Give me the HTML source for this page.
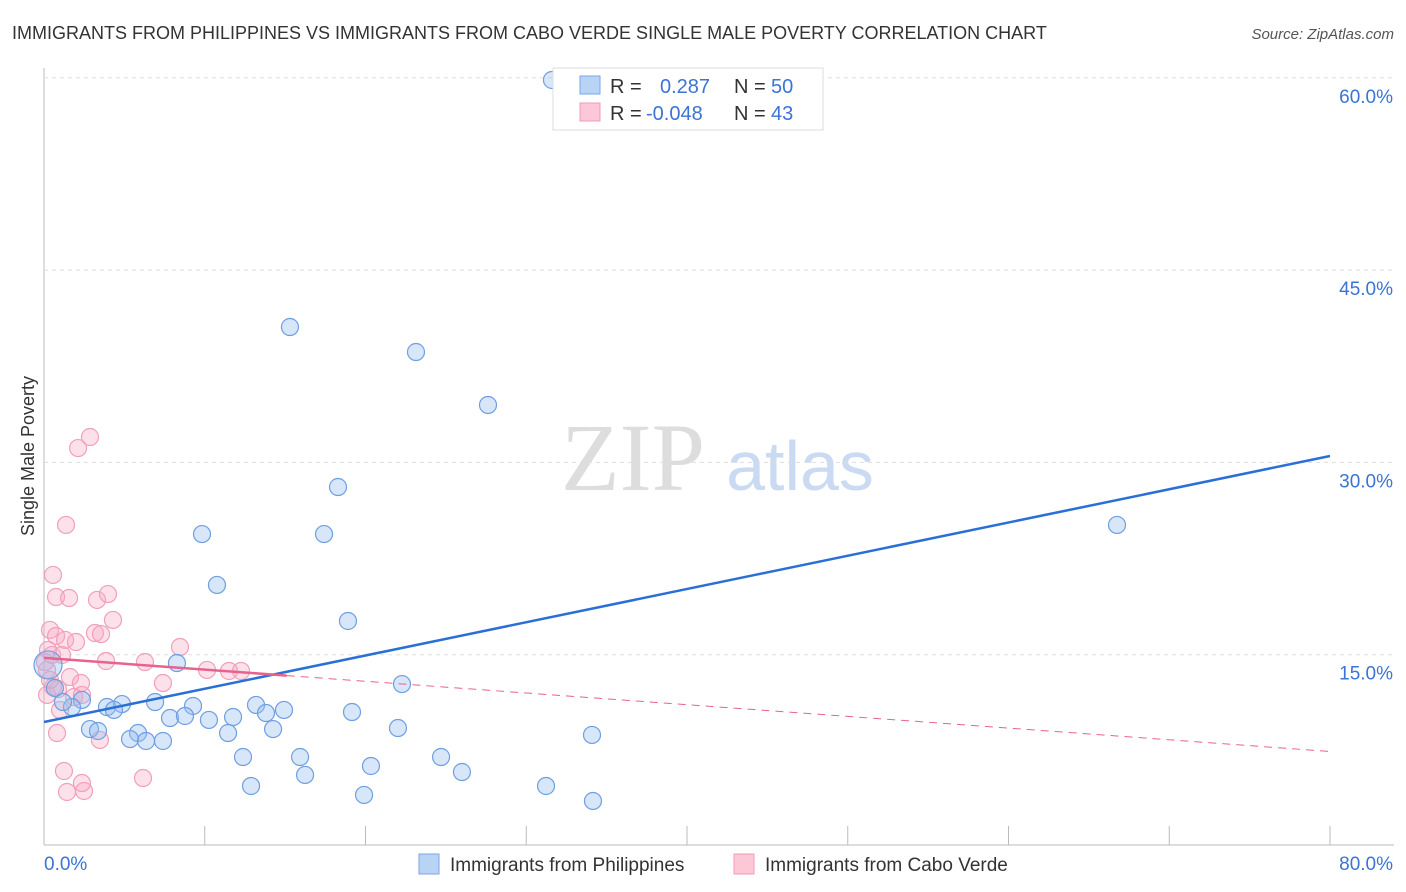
<!DOCTYPE html>
<html><head><meta charset="utf-8"><style>
body{margin:0;background:#fff;font-family:"Liberation Sans",sans-serif;}
svg{display:block}
</style></head><body>
<svg id="c" width="1406" height="892">
<text x="12" y="39" font-size="18" fill="#333">IMMIGRANTS FROM PHILIPPINES VS IMMIGRANTS FROM CABO VERDE SINGLE MALE POVERTY CORRELATION CHART</text>
<text x="1394" y="39" font-size="15" fill="#555" font-style="italic" text-anchor="end">Source: ZipAtlas.com</text>
<text transform="translate(34,456) rotate(-90)" font-size="18" fill="#333" text-anchor="middle">Single Male Poverty</text>
<g><text x="633" y="490" font-size="96" font-family="Liberation Serif,serif" fill="#ddd" text-anchor="middle">ZIP</text><text x="800" y="490" font-size="70" fill="#c9daf2" text-anchor="middle">atlas</text></g>
<g id="grid"></g><g id="pts"></g><g id="lines"></g>
<g>
<rect x="553" y="68" width="270" height="62" fill="#fff" stroke="#ddd"/>
<rect x="580" y="76" width="20" height="18" fill="#b9d3f5" stroke="#7aa6e6"/>
<rect x="580" y="103" width="20" height="18" fill="#fcc8d8" stroke="#f09ab5"/>
<text x="610" y="93" font-size="20" fill="#333">R =</text><text x="660" y="93" font-size="20" fill="#3b74d4">0.287</text>
<text x="734" y="93" font-size="20" fill="#333">N =</text><text x="771" y="93" font-size="20" fill="#3b74d4">50</text>
<text x="610" y="120" font-size="20" fill="#333">R =</text><text x="646" y="120" font-size="20" fill="#3b74d4">-0.048</text>
<text x="734" y="120" font-size="20" fill="#333">N =</text><text x="771" y="120" font-size="20" fill="#3b74d4">43</text>
</g>
<g>
<rect x="419" y="854" width="20" height="20" fill="#b9d3f5" stroke="#7aa6e6"/>
<text x="450" y="871" font-size="19" fill="#333">Immigrants from Philippines</text>
<rect x="734" y="854" width="20" height="20" fill="#fcc8d8" stroke="#f09ab5"/>
<text x="765" y="871" font-size="19" fill="#333">Immigrants from Cabo Verde</text>
</g>
</svg>
<script>
const xTicks=[0,10,20,30,40,50,60,70,80];
const yTicks=[15,30,45,60];
const bluePx=[[552,80],[290,327],[416,352],[488,405],[338,487],[1117,525],[202,534],[324,534],[217,585],[348,621],[177,663],[402,684],[155,702],[122,704],[82,700],[107,707],[114,710],[72,707],[63,702],[48,665],[55,688],[193,706],[256,705],[284,710],[170,718],[185,716],[209,720],[233,717],[266,713],[352,712],[228,733],[273,729],[398,728],[90,729],[98,731],[138,733],[130,739],[146,741],[163,741],[243,757],[300,757],[441,757],[592,735],[371,766],[462,772],[305,775],[251,786],[546,786],[364,795],[593,801]];
const pinkPx=[[90,437],[78,448],[66,525],[53,575],[56,597],[69,598],[97,600],[108,594],[113,620],[50,630],[56,636],[65,640],[76,642],[95,633],[101,634],[180,647],[48,650],[52,655],[106,661],[145,662],[207,670],[229,671],[241,671],[70,677],[81,683],[163,683],[53,687],[47,695],[58,689],[74,697],[82,695],[60,710],[57,733],[100,740],[64,771],[143,778],[67,792],[84,791],[82,783],[47,670],[50,680],[45,662],[62,655]];
// convert to data values (% units)
const blueX=bluePx.map(p=>+((p[0]-44)*80/1286).toFixed(2));
const blueY=bluePx.map(p=>+((847-p[1])/12.82).toFixed(2));
const pinkX=pinkPx.map(p=>+((p[0]-44)*80/1286).toFixed(2));
const pinkY=pinkPx.map(p=>+((847-p[1])/12.82).toFixed(2));
const blueTrend=[9.75,30.5];
const pinkTrend=[14.75,7.45];
const pinkSolidEnd=15.1;
const X=v=>44+v*1286/80, Y=v=>847-v*12.82;
const NS="http://www.w3.org/2000/svg";
function mk(t,a,p){const e=document.createElementNS(NS,t);for(const k in a)e.setAttribute(k,a[k]);p.appendChild(e);return e;}
const g=document.getElementById('grid');
mk('line',{x1:44,y1:68,x2:44,y2:845,stroke:'#bbb'},g);
mk('line',{x1:44,y1:845,x2:1394,y2:845,stroke:'#bbb'},g);
yTicks.forEach(v=>{const l=mk('line',{x1:44,y1:Y(v),x2:1394,y2:Y(v),stroke:'#ddd','stroke-dasharray':'4,4'},g);

const t=mk('text',{x:1393,y:Y(v)+25,'font-size':19,fill:'#3b74d4','text-anchor':'end'},g);t.textContent=v.toFixed(1)+'%';
});
xTicks.forEach(v=>{const l=mk('line',{x1:X(v),y1:826,x2:X(v),y2:845,stroke:'#bbb'},g);
});
[[0,'start'],[80,'end']].forEach(([v,a])=>{const t=mk('text',{x:v?1393:44,y:870,'font-size':19,fill:'#3b74d4','text-anchor':a},g);t.textContent=v.toFixed(1)+'%';
});
const pg=document.getElementById('pts');
pinkX.forEach((x,i)=>{const c=mk('circle',{cx:X(x),cy:Y(pinkY[i]),r:8.5,fill:'rgba(248,170,195,0.35)',stroke:'#f0a0b8','stroke-width':1.2},pg);
});
blueX.forEach((x,i)=>{const c=mk('circle',{cx:X(x),cy:Y(blueY[i]),r:i==19?14:8.5,fill:'rgba(150,190,240,0.38)',stroke:'#6f9fe0','stroke-width':1.2},pg);
});
const lg=document.getElementById('lines');
const bl=mk('line',{x1:X(0),y1:Y(blueTrend[0]),x2:X(80),y2:Y(blueTrend[1]),stroke:'#2a6fd6','stroke-width':2.5},lg);

const py=v=>pinkTrend[0]+(pinkTrend[1]-pinkTrend[0])*v/80;
const pl=mk('line',{x1:X(0),y1:Y(py(0)),x2:X(pinkSolidEnd),y2:Y(py(pinkSolidEnd)),stroke:'#e8628e','stroke-width':2.5},lg);

const pd=mk('line',{x1:X(pinkSolidEnd),y1:Y(py(pinkSolidEnd)),x2:X(80),y2:Y(py(80)),stroke:'#e8628e','stroke-width':1,'stroke-dasharray':'8,6'},lg);

</script>
</body></html>
